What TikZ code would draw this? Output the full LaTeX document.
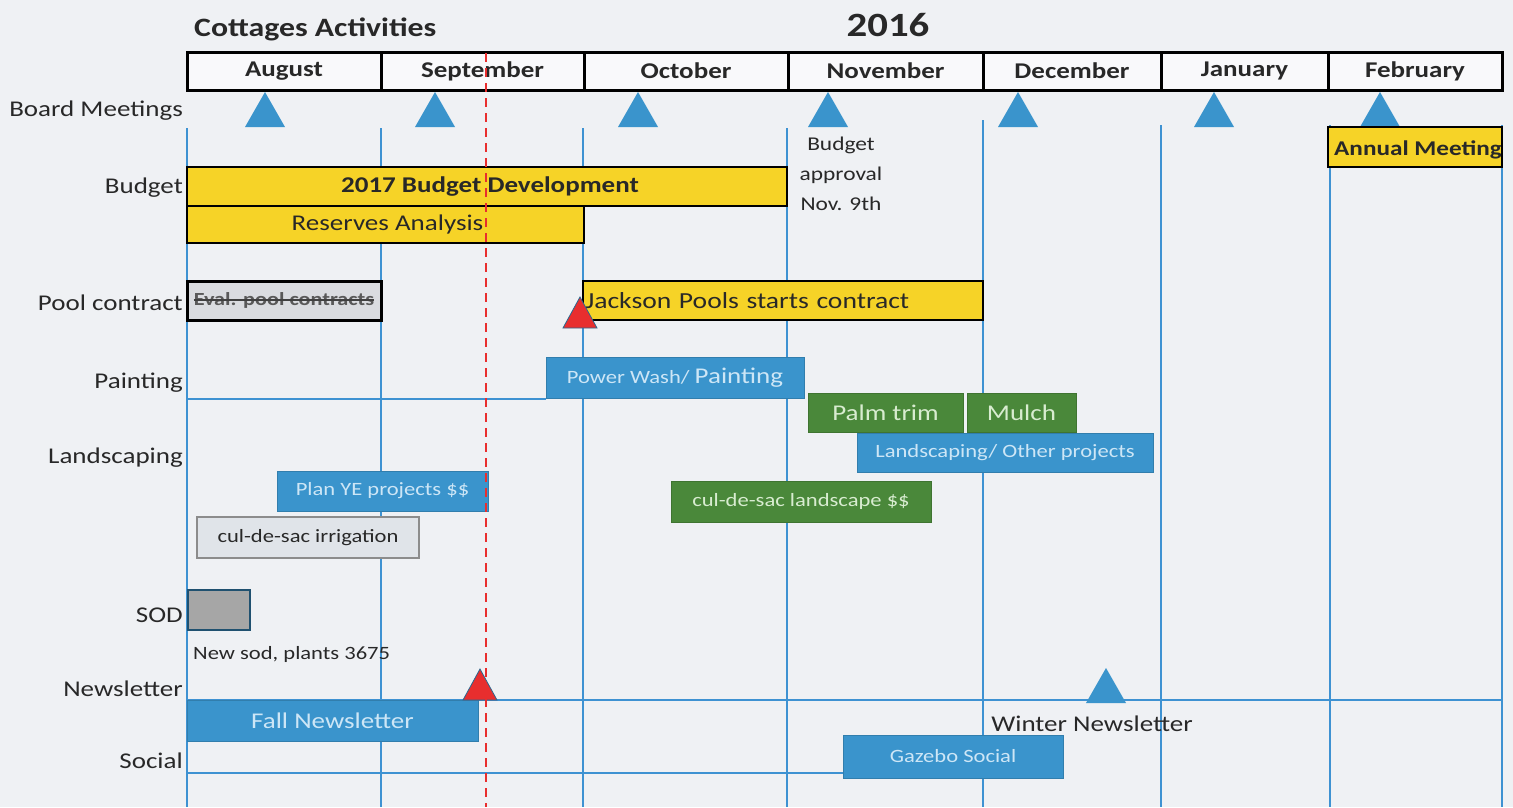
\documentclass[tikz,border=0pt]{standalone}
\usepackage{fontspec}
\setmainfont{Carlito}[FakeStretch=1.2]
\usetikzlibrary{calc}
\definecolor{bgc}{RGB}{239,241,244}
\definecolor{cblue}{RGB}{58,148,204}
\definecolor{cbluetxt}{RGB}{205,230,246}
\definecolor{cgreen}{RGB}{74,136,58}
\definecolor{cgreentxt}{RGB}{216,236,208}
\definecolor{cyellow}{RGB}{246,211,39}
\definecolor{cred}{RGB}{232,46,46}
\definecolor{cgrid}{RGB}{62,146,210}
\definecolor{ctext}{RGB}{40,40,40}
\definecolor{cgraybox}{RGB}{218,220,224}
\definecolor{clightbox}{RGB}{224,228,233}
\newcommand\szL{\fontsize{22.5pt}{27pt}\selectfont}
\newcommand\szS{\fontsize{18.8pt}{22pt}\selectfont}
\newcommand\szM{\fontsize{19.5pt}{30pt}\selectfont}
\begin{document}
\begin{tikzpicture}[x=1pt,y=-1pt,
  lbl/.style={font=\szL, text=ctext, inner sep=0pt, anchor=east},
  month/.style={draw=black, line width=3pt, fill=white!60!bgc, font=\bfseries\szL, text=ctext, inner sep=0pt, minimum height=38pt},
  gridline/.style={draw=cgrid, line width=2pt},
  ybar/.style={fill=cyellow, draw=black, line width=2.5pt, inner sep=0pt, text=ctext, font=\szL},
  bbar/.style={fill=cblue, draw=cblue!85!black, line width=1pt, inner sep=0pt, text=cbluetxt, font=\szS},
  gbar/.style={fill=cgreen, draw=cgreen!85!black, line width=1pt, inner sep=0pt, text=cgreentxt, font=\szS},
  btri/.pic={\fill[cblue] (-20,35) -- (0,0) -- (20,35) -- cycle;},
  rtri/.pic={\fill[cred, draw=cblue!70!black, line width=0.8pt] (-17,31) -- (0,0) -- (17,31) -- cycle;},
  txt/.style={text=ctext, inner sep=0pt}
]
\useasboundingbox (0,0) rectangle (1513,807);
\fill[bgc] (0,0) rectangle (1513,807);

% title
\node[txt, font=\bfseries\fontsize{26.5pt}{30pt}\selectfont, anchor=west] (title) at (194,29) {Cottages Activities};
\node[txt, font=\bfseries\fontsize{34pt}{38pt}\selectfont] (year) at (888,25) {2016};

% grid lines
\draw[gridline] (187,128) -- (187,807);
\draw[gridline] (381,128) -- (381,807);
\draw[gridline] (583,128) -- (583,807);
\draw[gridline] (787,128) -- (787,807);
\draw[gridline] (983,120) -- (983,807);
\draw[gridline] (1161,125) -- (1161,807);
\draw[gridline] (1330,125) -- (1330,807);
\draw[gridline] (1502,125) -- (1502,807);
\draw[gridline] (187,399) -- (546,399);
\draw[gridline, line width=2.5pt] (187,700) -- (1502,700);
\draw[gridline] (187,773) -- (843,773);

% month header
\node[month, minimum width=194pt] (aug) at (284,71) {August};
\node[month, minimum width=203pt] (sep) at (482.5,71) {September};
\node[month, minimum width=204pt] (oct) at (686,71) {October};
\node[month, minimum width=195pt] (nov) at (885.5,71) {November};
\node[month, minimum width=178pt] (dec) at (1072,71) {December};
\node[month, minimum width=167pt] (jan) at (1244.5,71) {January};
\node[month, minimum width=174pt] (feb) at (1415,71) {February};

% row labels
\node[lbl] (lboard) at (183,111) {Board Meetings};
\node[lbl] (lbudget) at (183,188) {Budget};
\node[lbl] (lpool) at (183,303) {Pool contract};
\node[lbl] (lpaint) at (183,383) {Painting};
\node[lbl] (lland) at (183,458) {Landscaping};
\node[lbl] (lsod) at (183,615) {SOD};
\node[lbl] (lnews) at (183,689) {Newsletter};
\node[lbl] (lsocial) at (183,761) {Social};

% board meeting triangles
\pic at (265,92) {btri};
\pic at (435,92) {btri};
\pic at (638,92) {btri};
\pic at (828,92) {btri};
\pic at (1018,92) {btri};
\pic at (1214,92) {btri};
\pic at (1380,92) {btri};

% budget
\node[ybar, font=\bfseries\szL, minimum width=600pt, minimum height=39pt] (bud) at (487,186.5) {\hspace*{6pt}2017 Budget Development};
\node[ybar, line width=2pt, minimum width=397pt, minimum height=37pt] (res) at (385.5,224.5) {\hspace*{4pt}Reserves Analysis};
\node[txt, font=\szM, align=center] (bappr) at (841,174) {Budget\\approval\\Nov. 9th};

% annual meeting
\node[ybar, minimum width=174pt, minimum height=40pt] (ann) at (1415,147) {};
\begin{scope}
\clip (1329.5,128) rectangle (1500.5,166);
\node[txt, font=\bfseries\fontsize{21pt}{24pt}\selectfont, anchor=west] (annt) at (1334,150) {Annual Meeting};
\end{scope}

% pool contract
\node[ybar, fill=cgraybox, line width=3pt, minimum width=194pt, minimum height=39pt] (eval) at (284,300.5) {};
\node[inner sep=0pt, text=black!65, font=\bfseries\fontsize{18.5pt}{20pt}\selectfont] (evt) at (eval.center) {Eval. pool contracts};
\draw[black!75, line width=1.2pt] ([yshift=5.5pt]evt.base west) -- ([yshift=5.5pt]evt.base east);
\node[ybar, line width=1.5pt, minimum width=400pt, minimum height=39pt, text width=395pt, inner xsep=2.5pt, align=left, font=\fontsize{23pt}{27pt}\selectfont] (jack) at (783,300.5) {Jackson Pools starts contract};
\pic at (580,297) {rtri};

% painting
\node[bbar, minimum width=258pt, minimum height=41pt] (pw) at (675,377.5) {Power Wash/ {\szL Painting}};

% landscaping
\node[gbar, font=\szL, minimum width=155pt, minimum height=39pt] (palm) at (885.5,412.5) {Palm trim};
\node[gbar, font=\szL, minimum width=109pt, minimum height=39pt] (mulch) at (1021.5,412.5) {Mulch};
\node[bbar, minimum width=296pt, minimum height=39pt] (lop) at (1005,452.5) {Landscaping/ Other projects};
\node[bbar, minimum width=211pt, minimum height=40pt] (plan) at (382.5,491) {Plan YE projects \$\$};
\node[gbar, minimum width=260pt, minimum height=41pt] (culland) at (801,501.5) {cul-de-sac landscape \$\$};
\node[fill=clightbox, draw=black!45, line width=1.5pt, inner sep=0pt, text=ctext, font=\szS, minimum width=222pt, minimum height=41pt] (culirr) at (308,537.5) {cul-de-sac irrigation};

% sod
\node[fill=black!35, draw=cblue!55!black, line width=2.5pt, minimum width=62pt, minimum height=40pt, inner sep=0pt] (sod) at (219,610) {};
\node[txt, font=\szS, anchor=west] (sodt) at (193,654) {New sod, plants 3675};

% newsletter
\node[bbar, font=\szL, minimum width=291pt, minimum height=41pt] (fall) at (332.5,720.5) {Fall Newsletter};
\pic at (480,669) {rtri};
\pic at (1106,668) {btri};
\node[txt, font=\szL] (wint) at (1092,724) {Winter Newsletter};

% social
\node[bbar, minimum width=220pt, minimum height=43pt] (gaz) at (953,756.5) {Gazebo Social};

% today line
\draw[cred, line width=2.5pt, dash pattern=on 9pt off 6pt] (486,53) -- (486,807);
\end{tikzpicture}
\end{document}
